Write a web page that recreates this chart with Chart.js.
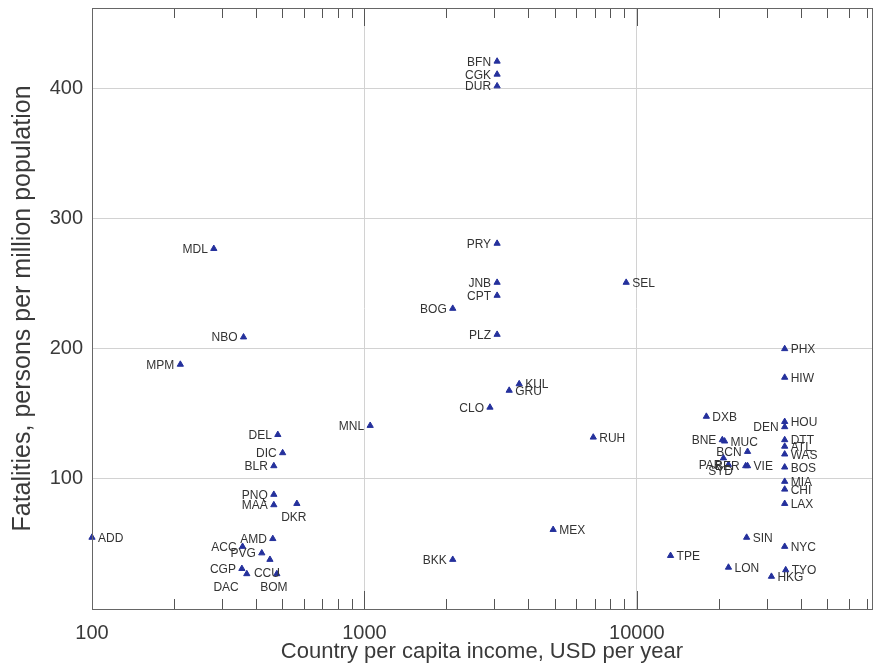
<!DOCTYPE html>
<html><head><meta charset="utf-8">
<script src="https://cdn.jsdelivr.net/npm/chart.js@4/dist/chart.umd.min.js"></script>
<style>html,body{margin:0;padding:0;background:#fff}#wrap{width:877px;height:668px}</style>
</head><body><div id="wrap"><canvas id="c" width="877" height="668"></canvas></div>
<script>
const cities = ['BFN','CGK','DUR','PRY','JNB','CPT','BOG','PLZ','SEL','KUL','GRU','CLO','MNL','MDL','NBO','MPM','DEL','DIC','BLR','PNQ','MAA','DKR','ADD','AMD','ACC','PVG','CCU','BOM','CGP','DAC','BKK','MEX','RUH','TPE','LON','SIN','HKG','TYO','NYC','LAX','CHI','MIA','BOS','WAS','ATL','DTT','HOU','DEN','HIW','PHX','DXB','BNE','MUC','BCN','PAR','BER','VIE','SYD'];
const income = [3070,3070,3070,3070,3070,3070,2110,3070,9140,3700,3400,2890,1050,280,360,211,481,501,465,465,465,565,100,461,357,420,450,477,355,370,2110,4930,6920,13300,21700,25300,31200,35200,34900,34900,34900,34900,34900,34900,34900,34900,34900,34900,34900,34900,18000,20600,21000,25500,21700,25100,25500,20800];
const fatalities = [421,411,402,281,251,241,231,211,251,173,168,155,141,277,209,188,134,120,110,88,80,81,55,54,48,43,38,27,31,27,38,61,132,41,32,55,25,30,48,81,92,98,109,119,125,130,144,140,178,200,148,130,129,121,111,110,110,116];
const labelSide = ['l','l','l','l','l','l','l','l','r','r','r','l','l','l','l','l','l','l','l','l','l','b','r','l','l','l','b','b','l','bl','l','r','r','r','r','r','r','r','r','r','r','r','r','r','r','r','r','l','r','r','r','l','r','l','l','l','r','b'];
const xTickLabels = [100, 1000, 10000];
const yTickLabels = [100, 200, 300, 400];

const FONT = '"Liberation Sans", Arial, sans-serif';
const TXT = '#3a3a3a';

const framePlugin = {
  id: 'frame',
  afterDraw(chart) {
    const {ctx, chartArea: a, scales: {x}} = chart;
    ctx.save();
    ctx.strokeStyle = '#555';
    ctx.lineWidth = 1;
    ctx.beginPath();
    x.ticks.forEach(t => {
      const v = t.value;
      const m = v / Math.pow(10, Math.floor(Math.log10(v) + 1e-9));
      if (Math.abs(m - Math.round(m)) > 1e-6) return;
      if (v <= x.min || v >= x.max) return;
      const px = Math.round(x.getPixelForValue(v)) + 0.5;
      const len = Math.abs(m - 1) < 1e-6 ? 18 : 10;
      ctx.moveTo(px, a.bottom); ctx.lineTo(px, a.bottom - len);
      ctx.moveTo(px, a.top); ctx.lineTo(px, a.top + len);
    });
    ctx.stroke();
    ctx.strokeStyle = '#666';
    ctx.strokeRect(Math.round(a.left) + 0.5, Math.round(a.top) + 0.5, Math.round(a.right - a.left), Math.round(a.bottom - a.top));
    ctx.restore();
  }
};

const labelPlugin = {
  id: 'pointLabels',
  afterDatasetsDraw(chart) {
    const {ctx} = chart;
    const meta = chart.getDatasetMeta(0);
    ctx.save();
    ctx.font = '12px ' + FONT;
    ctx.fillStyle = '#333';
    ctx.textBaseline = 'middle';
    meta.data.forEach((pt, i) => {
      const s = labelSide[i];
      let tx = pt.x, ty = pt.y + 1;
      if (s === 'l') { ctx.textAlign = 'right'; tx = pt.x - 6; }
      else if (s === 'r') { ctx.textAlign = 'left'; tx = pt.x + 6; }
      else if (s === 'b') { ctx.textAlign = 'center'; tx = pt.x - 3; ty = pt.y + 14; }
      else if (s === 'bl') { ctx.textAlign = 'right'; tx = pt.x - 8; ty = pt.y + 14; }
      ctx.fillText(cities[i], tx, ty);
    });
    ctx.restore();
  }
};

const isPow10 = v => Math.abs(Math.log10(v) - Math.round(Math.log10(v))) < 1e-9;

new Chart(document.getElementById('c'), {
  type: 'scatter',
  data: {
    datasets: [{
      data: income.map((v, i) => ({x: v, y: fatalities[i]})),
      pointStyle: 'triangle',
      pointRadius: 3.6,
      backgroundColor: '#24309c',
      borderColor: '#24309c',
      borderWidth: 1,
      clip: false
    }]
  },
  options: {
    responsive: false,
    animation: false,
    devicePixelRatio: 1,
    layout: {padding: {left: 0, right: 2, top: 8, bottom: 0}},
    plugins: {legend: {display: false}, tooltip: {enabled: false}},
    scales: {
      x: {
        type: 'logarithmic',
        min: 100, max: 73000,
        afterFit(s) { s.height = 59; s.paddingLeft = 0; s.paddingRight = 0; },
        border: {display: false},
        grid: {
          drawTicks: false,
          color: c => (c.tick && isPow10(c.tick.value) && c.tick.value > 100) ? '#d2d2d2' : 'rgba(0,0,0,0)',
          lineWidth: 1
        },
        ticks: {
          autoSkip: false, maxRotation: 0, padding: 12,
          color: TXT, font: {family: FONT, size: 20},
          callback: v => xTickLabels.includes(v) ? String(v) : ''
        },
        title: {display: true, text: 'Country per capita income, USD per year', color: TXT,
          font: {family: FONT, size: 22}, padding: {top: 0, bottom: 3}}
      },
      y: {
        min: 0, max: 462,
        afterFit(s) { s.width = 92; s.paddingTop = 0; s.paddingBottom = 0; },
        border: {display: false},
        grid: {
          drawTicks: false,
          color: c => (c.tick && yTickLabels.includes(c.tick.value)) ? '#d2d2d2' : 'rgba(0,0,0,0)'
        },
        ticks: {
          stepSize: 100, padding: 9,
          color: TXT, font: {family: FONT, size: 20},
          callback: v => yTickLabels.includes(v) ? String(v) : ''
        },
        title: {display: true, text: 'Fatalities, persons per million population', color: TXT,
          font: {family: FONT, size: 25}, padding: {top: 8, bottom: 0}}
      }
    }
  },
  plugins: [framePlugin, labelPlugin]
});
</script></body></html>
